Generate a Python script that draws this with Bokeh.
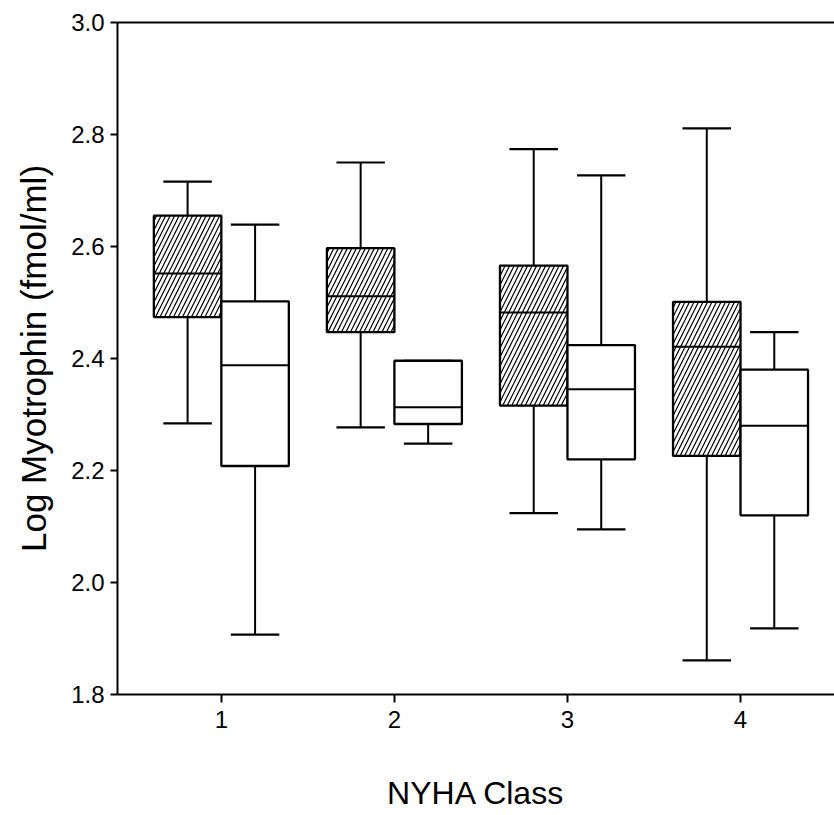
from bokeh.plotting import figure
from bokeh.models import LinearAxis, FixedTicker, ColumnDataSource, Range1d, PrintfTickFormatter
from bokeh.transform import dodge
from bokeh.embed import file_html
from bokeh.resources import INLINE

# ---- data ----
classes = [1, 2, 3, 4]
# hatched boxes
hat_high = [2.716, 2.750, 2.774, 2.811]
hat_q3 = [2.655, 2.597, 2.566, 2.501]
hat_med = [2.552, 2.511, 2.482, 2.421]
hat_q1 = [2.474, 2.447, 2.316, 2.226]
hat_low = [2.284, 2.277, 2.124, 1.861]
# open boxes
opn_high = [2.639, 2.396, 2.727, 2.447]
opn_q3 = [2.502, 2.396, 2.424, 2.380]
opn_med = [2.388, 2.313, 2.345, 2.280]
opn_q1 = [2.208, 2.283, 2.220, 2.120]
opn_low = [1.907, 2.248, 2.095, 1.918]

y_ticks = [1.8, 2.0, 2.2, 2.4, 2.6, 2.8, 3.0]
x_ticks = [1, 2, 3, 4]

BOX_W = 0.39
CAP_W = 0.28
OFF = BOX_W / 2

hat = ColumnDataSource(dict(x=classes, high=hat_high, q3=hat_q3, med=hat_med, q1=hat_q1, low=hat_low))
opn = ColumnDataSource(dict(x=classes, high=opn_high, q3=opn_q3, med=opn_med, q1=opn_q1, low=opn_low))

p = figure(width=834, height=815, output_backend="svg", toolbar_location=None,
           x_range=Range1d(0.4, 4.543), y_range=Range1d(1.8, 3.0),
           min_border_left=117, min_border_right=0, min_border_top=22, min_border_bottom=121)
p.outline_line_color = None
p.xgrid.visible = False
p.ygrid.visible = False
p.background_fill_color = "white"
p.border_fill_color = "white"

FONT = "Liberation Sans"

for src, off, hatch in ((hat, -OFF, "/"), (opn, OFF, None)):
    xx = dodge("x", off, range=p.x_range)
    x0 = dodge("x", off - CAP_W / 2, range=p.x_range)
    x1 = dodge("x", off + CAP_W / 2, range=p.x_range)
    bx0 = dodge("x", off - BOX_W / 2, range=p.x_range)
    bx1 = dodge("x", off + BOX_W / 2, range=p.x_range)
    # whisker stem
    p.segment(x0=xx, y0="low", x1=xx, y1="high", source=src, line_color="black", line_width=2)
    # caps
    p.segment(x0=x0, y0="high", x1=x1, y1="high", source=src, line_color="black", line_width=2.2)
    p.segment(x0=x0, y0="low", x1=x1, y1="low", source=src, line_color="black", line_width=2.2)
    # box
    kw = dict(hatch_pattern=hatch, hatch_color="black", hatch_scale=9, hatch_weight=1.2) if hatch else {}
    p.vbar(x=xx, width=BOX_W, top="q3", bottom="q1", source=src, fill_color="white",
           line_color="black", line_width=2.3, **kw)
    # median
    p.segment(x0=bx0, y0="med", x1=bx1, y1="med", source=src, line_color="black", line_width=2)

# axes styling
for ax in (p.xaxis[0], p.yaxis[0]):
    ax.axis_line_width = 2
    ax.axis_line_color = "black"
    ax.major_tick_line_width = 2
    ax.major_tick_line_color = "black"
    ax.major_tick_in = 0
    ax.major_tick_out = 8
    ax.minor_tick_line_color = None
    ax.major_label_text_font = FONT
    ax.major_label_text_font_size = "24px"
    ax.major_label_text_color = "black"
    ax.axis_label_text_font = FONT
    ax.axis_label_text_font_style = "normal"
    ax.axis_label_text_color = "black"

p.xaxis[0].ticker = FixedTicker(ticks=x_ticks)
p.yaxis[0].ticker = FixedTicker(ticks=y_ticks)
p.yaxis[0].formatter = PrintfTickFormatter(format="%.1f")
p.yaxis[0].major_tick_out = 7
p.xaxis[0].major_label_standoff = 8
p.yaxis[0].major_label_standoff = 6
p.xaxis[0].axis_label = "NYHA Class"
p.yaxis[0].axis_label = "Log Myotrophin (fmol/ml)"
p.xaxis[0].axis_label_text_font_size = "32px"
p.yaxis[0].axis_label_text_font_size = "35px"
p.xaxis[0].axis_label_standoff = 44
p.yaxis[0].axis_label_standoff = 15

top = LinearAxis(ticker=FixedTicker(ticks=[]), axis_line_width=2, axis_line_color="black",
                 major_tick_in=0, major_tick_out=0, minor_tick_line_color=None,
                 major_label_text_font_size="0px")
p.add_layout(top, "above")

open("out.html", "w").write(file_html(p, INLINE))
